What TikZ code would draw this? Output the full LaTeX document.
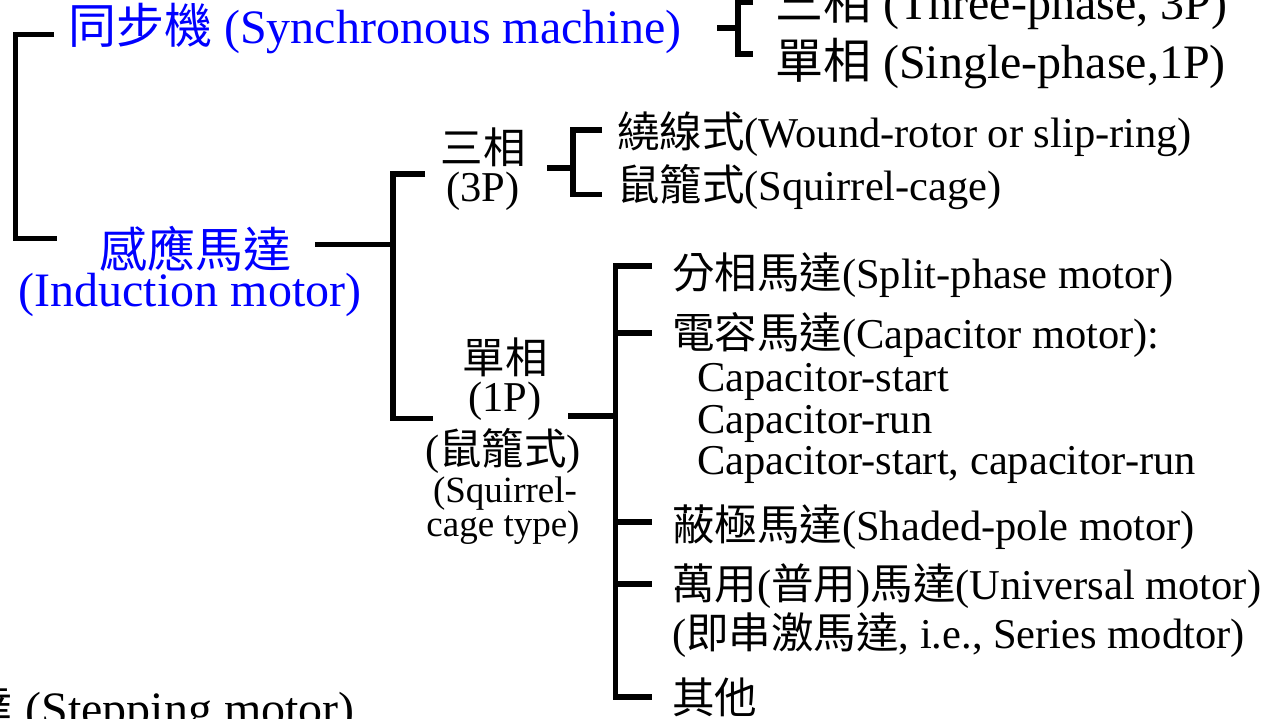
\documentclass[tikz,border=0pt]{standalone}
\usepackage{fontspec}
\setmainfont{Liberation Serif}
\newfontfamily\cjk{Noto Sans CJK TC}
\definecolor{tblue}{RGB}{0,0,255}
\tikzset{
  bar/.style={line width=5.5pt, line join=miter},
  big/.style={font=\fontsize{48}{56}\selectfont, inner sep=0pt, anchor=base west},
  bigc/.style={font=\fontsize{48}{56}\selectfont, inner sep=0pt, anchor=base},
  med/.style={font=\fontsize{42.5}{50}\selectfont, inner sep=0pt, anchor=base west},
  medc/.style={font=\fontsize{42.5}{50}\selectfont, inner sep=0pt, anchor=base},
  smallc/.style={font=\fontsize{37}{44}\selectfont, inner sep=0pt, anchor=base},
}
\begin{document}
\begin{tikzpicture}[x=1pt,y=-1pt]
\useasboundingbox (0,0) rectangle (1284,719);
\clip (0,0) rectangle (1284,719);

% top level
\node[big, text=tblue] (syn) at (68,44) {{\cjk 同步機} (Synchronous machine)};
\node[bigc, text=tblue] (indA) at (195,267) {\cjk 感應馬達};
\node[bigc, text=tblue] (indB) at (190,306) {(Induction motor)};
\node[font=\fontsize{48}{56}\selectfont, inner sep=0pt, anchor=base east] (step) at (355,725) {{\cjk 步進馬達} (Stepping motor)};

% synchronous machine branches
\node[big] (syn3) at (775,20) {{\cjk 三相} (Three-phase, 3P)};
\node[big] (syn1) at (775,79) {{\cjk 單相} (Single-phase,1P)};

% induction: 3P
\node[medc] (p3a) at (483,164) {\cjk 三相};
\node[medc] (p3b) at (483,202) {(3P)};
\node[med] (wound) at (617,148) {{\cjk 繞線式}(Wound-rotor or slip-ring)};
\node[med] (squir) at (617,201) {{\cjk 鼠籠式}(Squirrel-cage)};

% induction: 1P
\node[medc] (p1a) at (505,373) {\cjk 單相};
\node[medc] (p1b) at (505,411) {(1P)};
\node[medc] (p1c) at (503,464) {({\cjk 鼠籠式})};
\node[smallc] (p1d) at (505,502) {(Squirrel-};
\node[smallc] (p1e) at (503,536) {cage type)};

\node[med] (split) at (672,288) {{\cjk 分相馬達}(Split-phase motor)};
\node[med] (cap) at (672,348) {{\cjk 電容馬達}(Capacitor motor):};
\node[med] (capa) at (697,391) {Capacitor-start};
\node[med] (capb) at (697,433) {Capacitor-run};
\node[med] (capc) at (697,474) {Capacitor-start, capacitor-run};
\node[med] (shade) at (672,540) {{\cjk 蔽極馬達}(Shaded-pole motor)};
\node[med] (univ) at (672,599) {{\cjk 萬用}({\cjk 普用}){\cjk 馬達}(Universal motor)};
\node[med] (univb) at (672,648) {({\cjk 即串激馬達}, i.e., Series modtor)};
\node[med] (other) at (672,713) {\cjk 其他};

% connector points
\coordinate (tlTop) at (54,34.5);
\coordinate (tlBot) at (57,238.5);
\coordinate (tlX) at (15.5,0);
\draw[bar] (tlTop) -- (tlTop -| tlX) -- (tlBot -| tlX) -- (tlBot);

\coordinate (sStub) at (717,28);
\coordinate (sX) at (738,28);
\coordinate (sTop) at (753,2.5);
\coordinate (sBot) at (753,54);
\draw[bar] (sStub) -- (sX);
\draw[bar] (sTop) -- (sTop -| sX) -- (sBot -| sX) -- (sBot);

\coordinate (iStub) at (315,244.5);
\coordinate (iX) at (393,244.5);
\coordinate (iTop) at (425,174);
\coordinate (iBot) at (433,418.5);
\draw[bar] (iStub) -- (iX);
\draw[bar] (iTop) -- (iTop -| iX) -- (iBot -| iX) -- (iBot);

\coordinate (tStub) at (547,168);
\coordinate (tX) at (573,168);
\coordinate (tTop) at (602,130);
\coordinate (tBot) at (602,194.5);
\draw[bar] (tStub) -- (tX);
\draw[bar] (tTop) -- (tTop -| tX) -- (tBot -| tX) -- (tBot);

\coordinate (oStub) at (568,416);
\coordinate (oX) at (615.5,416);
\coordinate (oA) at (652,266);
\coordinate (oB) at (652,333);
\coordinate (oC) at (652,522);
\coordinate (oD) at (652,584);
\coordinate (oE) at (652,697);
\draw[bar] (oStub) -- (oX);
\draw[bar] (oA) -- (oA -| oX) -- (oE -| oX) -- (oE);
\draw[bar] (oB -| oX) -- (oB);
\draw[bar] (oC -| oX) -- (oC);
\draw[bar] (oD -| oX) -- (oD);
\end{tikzpicture}
\end{document}
